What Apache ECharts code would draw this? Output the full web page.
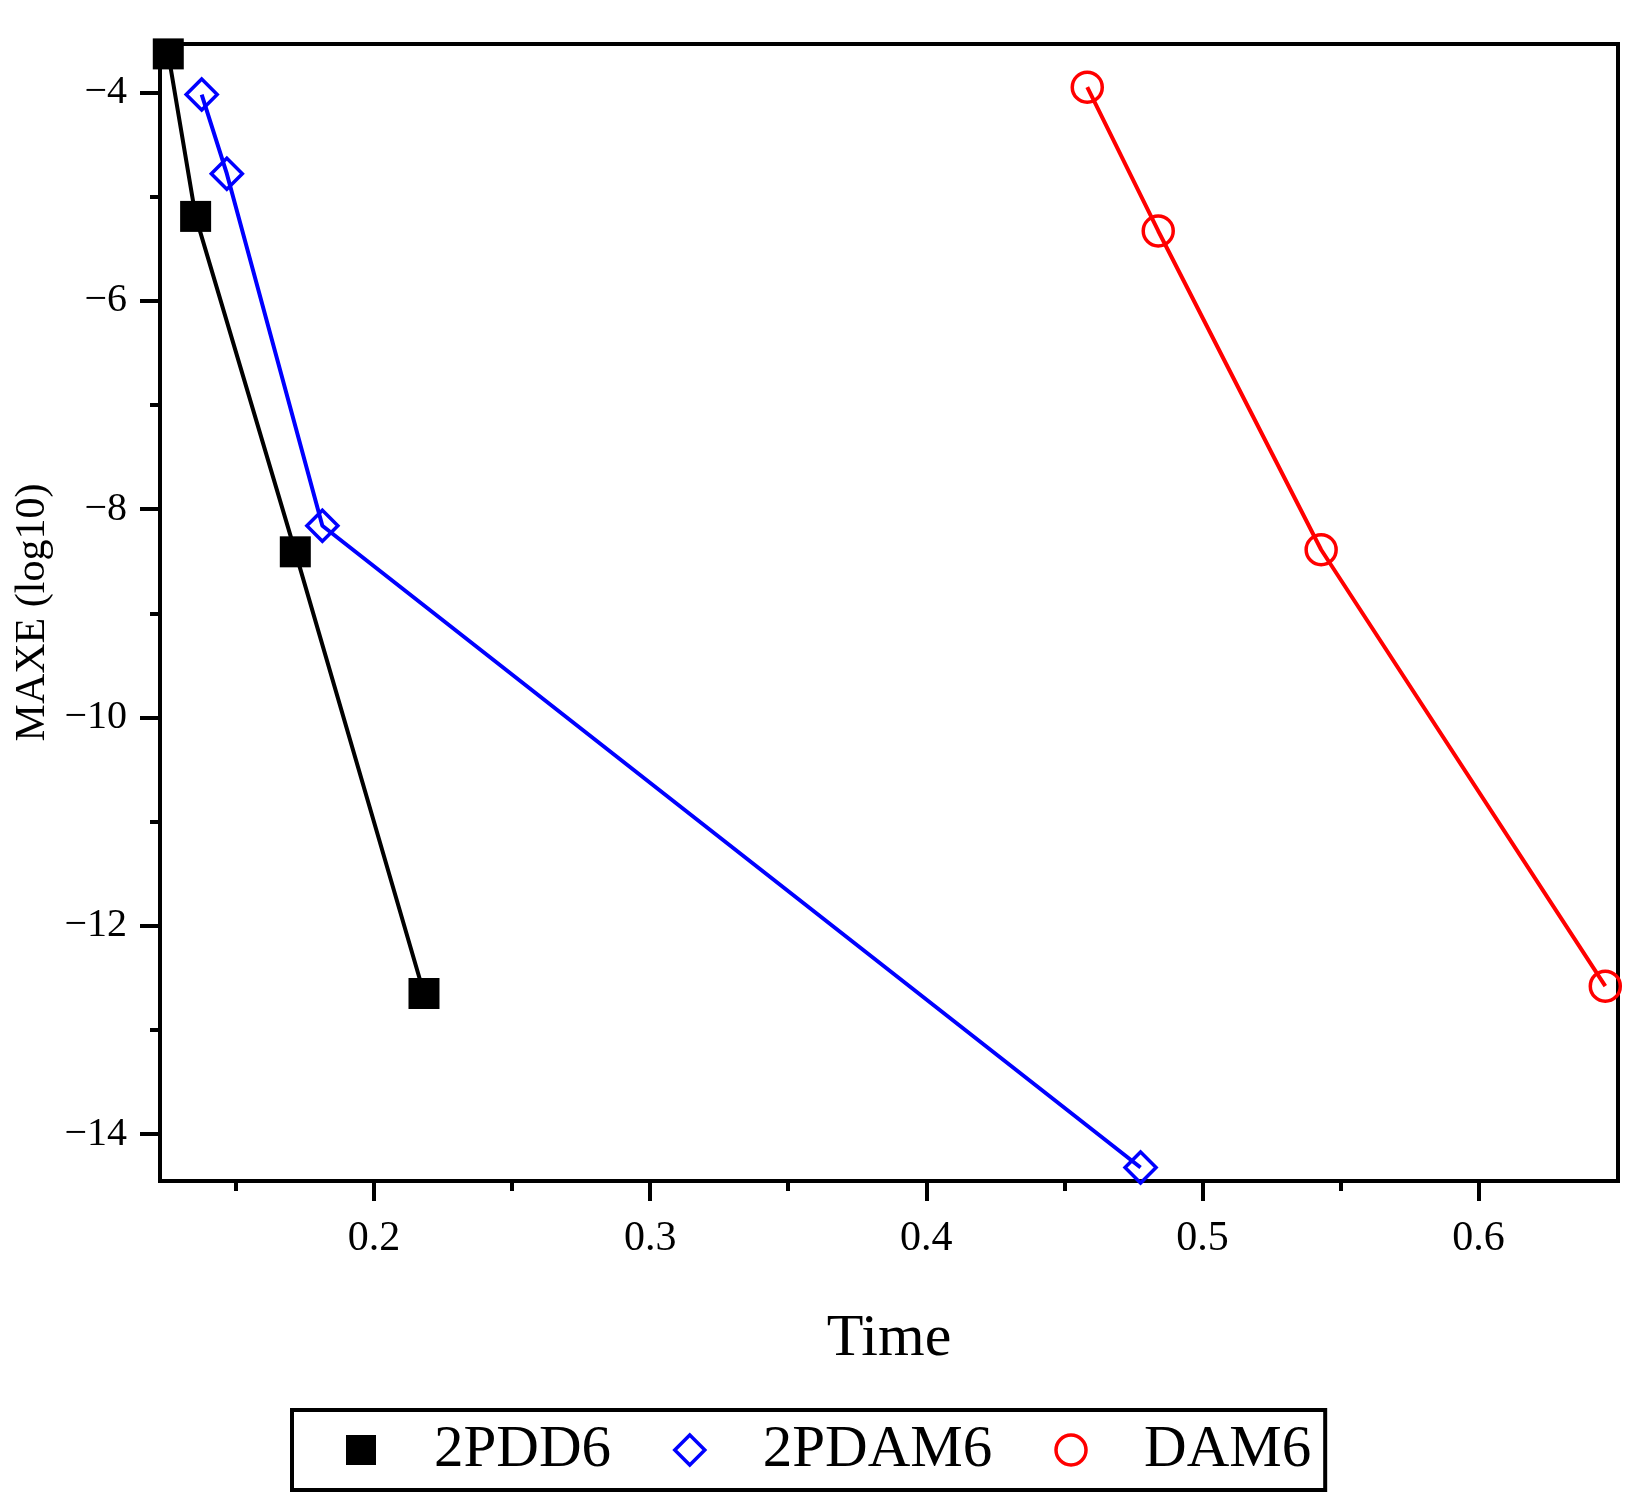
<!DOCTYPE html>
<html>
<head>
  <meta charset="UTF-8" />
  <title>MAXE vs Time</title>
  <style>
    body { margin: 0; background: #fff }
    #chart { width: 1638px; height: 1511px }
  </style>
  <script src="https://cdn.jsdelivr.net/npm/echarts@6/dist/echarts.min.js"></script>
</head>
<body>
  <div id="chart"></div>
  <script>
    // series data (time, log10 of max error)
    const seriesNames = ['2PDD6', '2PDAM6', 'DAM6'];
    const pddTime = [0.1255, 0.1354, 0.1715, 0.2181];
    const pddErr = [-3.63, -5.19, -8.41, -12.65];
    const pdamTime = [0.1376, 0.1467, 0.1813, 0.4776];
    const pdamErr = [-4.02, -4.78, -8.16, -14.32];
    const damTime = [0.4583, 0.4840, 0.5430, 0.6459];
    const damErr = [-3.95, -5.33, -8.39, -12.58];

    // axis ticks
    const xMajorTicks = [0.2, 0.3, 0.4, 0.5, 0.6];
    const xMinorTicks = [0.15, 0.25, 0.35, 0.45, 0.55];
    const yMajorTicks = [-4, -6, -8, -10, -12, -14];
    const yMinorTicks = [-5, -7, -9, -11, -13];

    const font = 'Liberation Serif';
    const xRange = [0.1225, 0.6505];
    const yRange = [-14.45, -3.535];

    const pairs = (xs, ys) => xs.map((x, i) => [x, ys[i]]);

    const chart = echarts.init(document.getElementById('chart'));

    const baseX = {
      type: 'value', min: xRange[0], max: xRange[1], position: 'bottom',
      splitLine: { show: false }
    };
    const baseY = {
      type: 'value', min: yRange[0], max: yRange[1], position: 'left',
      splitLine: { show: false }
    };

    chart.setOption({
      backgroundColor: '#fff',
      animation: false,
      grid: {
        left: 160, right: 20, top: 44, bottom: 330,
        show: true, borderColor: '#000', borderWidth: 4
      },
      xAxis: [
        {
          ...baseX,
          name: 'Time', nameLocation: 'middle', nameGap: 128,
          nameTextStyle: { fontFamily: font, fontSize: 60, color: '#000' },
          axisLine: { show: true, lineStyle: { color: '#000', width: 4 } },
          axisTick: { show: true, customValues: xMajorTicks, length: 20, lineStyle: { color: '#000', width: 4 } },
          axisLabel: {
            customValues: xMajorTicks, margin: 37,
            fontFamily: font, fontSize: 42, color: '#000',
            formatter: v => v.toFixed(1)
          }
        },
        {
          ...baseX,
          axisLine: { show: false },
          axisTick: { show: true, customValues: xMinorTicks, length: 10, lineStyle: { color: '#000', width: 4 } },
          axisLabel: { show: false }
        }
      ],
      yAxis: [
        {
          ...baseY,
          name: 'MAXE (log10)', nameLocation: 'middle', nameGap: 102,
          nameTextStyle: { fontFamily: font, fontSize: 42, color: '#000' },
          axisLine: { show: true, lineStyle: { color: '#000', width: 4 } },
          axisTick: { show: true, customValues: yMajorTicks, length: 20, lineStyle: { color: '#000', width: 4 } },
          axisLabel: {
            customValues: yMajorTicks, margin: 33,
            fontFamily: font, fontSize: 40, color: '#000',
            formatter: v => String(v).replace('-', '\u2212')
          }
        },
        {
          ...baseY,
          axisLine: { show: false },
          axisTick: { show: true, customValues: yMinorTicks, length: 10, lineStyle: { color: '#000', width: 4 } },
          axisLabel: { show: false }
        }
      ],
      legend: {
        left: 292, top: 1410,
        orient: 'horizontal',
        padding: [10, 14, 10, 54],
        borderColor: '#000', borderWidth: 4,
        itemWidth: 30, itemHeight: 30, itemGap: 62,
        textStyle: { fontFamily: font, fontSize: 59, lineHeight: 60, color: '#000', padding: [0, 0, 0, 53] },
        data: [
          { name: seriesNames[0], icon: 'rect',
            itemStyle: { color: '#000', borderWidth: 0 } },
          { name: seriesNames[1], icon: 'diamond',
            itemStyle: { color: 'rgba(0,0,0,0)', borderColor: '#0000ff', borderWidth: 3.5 } },
          { name: seriesNames[2], icon: 'circle',
            itemStyle: { color: 'rgba(0,0,0,0)', borderColor: '#ff0000', borderWidth: 3.5 } }
        ]
      },
      series: [
        {
          name: seriesNames[0], type: 'line', clip: false,
          data: pairs(pddTime, pddErr),
          symbol: 'rect', symbolSize: 31,
          itemStyle: { color: '#000' },
          lineStyle: { color: '#000', width: 4 }
        },
        {
          name: seriesNames[1], type: 'line', clip: false,
          data: pairs(pdamTime, pdamErr),
          symbol: 'diamond', symbolSize: 31,
          itemStyle: { color: 'rgba(0,0,0,0)', borderColor: '#0000ff', borderWidth: 3.5 },
          lineStyle: { color: '#0000ff', width: 4 }
        },
        {
          name: seriesNames[2], type: 'line', clip: false,
          data: pairs(damTime, damErr),
          symbol: 'circle', symbolSize: 30,
          itemStyle: { color: 'rgba(0,0,0,0)', borderColor: '#ff0000', borderWidth: 3.5 },
          lineStyle: { color: '#ff0000', width: 4 }
        }
      ]
    });
  </script>
</body>
</html>
